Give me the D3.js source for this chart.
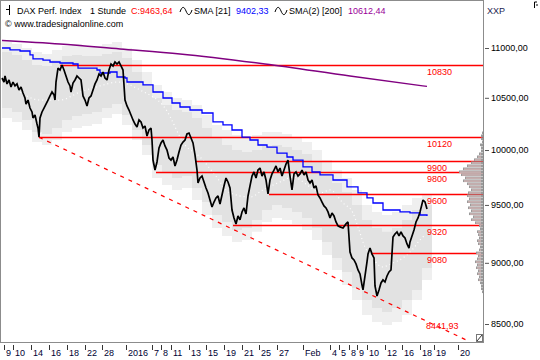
<!DOCTYPE html>
<html><head><meta charset="utf-8">
<script src="https://cdn.jsdelivr.net/npm/d3@7/dist/d3.min.js"></script>
<style>
body{margin:0;background:#fff}
svg{display:block}
text{font-family:"Liberation Sans",Arial,sans-serif;font-size:9px}
</style>
</head><body>
<svg id="c" width="540" height="360"></svg>
<script>
// ---------- DATA ----------
// hourly bar index vs. close
const priceSeries = [[2,10696],[4,10656],[5,10716],[7,10637],[9,10676],[11,10607],[13,10656],[15,10617],[17,10637],[19,10577],[21,10607],[23,10547],[25,10498],[26,10439],[28,10478],[30,10400],[32,10362],[33,10304],[35,10333],[37,10246],[38,10208],[39,10122],[40,10304],[42,10362],[44,10400],[46,10439],[48,10478],[50,10518],[52,10557],[54,10528],[55,10478],[56,10656],[58,10796],[60,10776],[62,10827],[64,10776],[66,10716],[68,10656],[70,10617],[71,10557],[73,10646],[75,10676],[77,10716],[79,10696],[81,10676],[83,10518],[85,10478],[87,10420],[89,10498],[91,10518],[93,10577],[95,10637],[97,10676],[99,10736],[101,10716],[103,10756],[105,10696],[107,10676],[109,10776],[111,10837],[113,10817],[115,10857],[117,10837],[119,10857],[121,10817],[123,10776],[125,10478],[127,10420],[129,10381],[131,10333],[133,10285],[135,10246],[137,10218],[139,10285],[141,10266],[143,10208],[145,10227],[147,10132],[149,10189],[151,10208],[152,10094],[153,9907],[155,9815],[157,9889],[159,10019],[161,10066],[163,10094],[165,10038],[167,10000],[169,9926],[171,9907],[173,9935],[175,9852],[177,9907],[179,9982],[181,10047],[183,10075],[185,10094],[187,10151],[189,10160],[191,10113],[193,10066],[195,9954],[197,9815],[198,9697],[200,9742],[202,9760],[204,9706],[206,9652],[208,9607],[210,9544],[212,9482],[214,9526],[216,9562],[218,9580],[220,9508],[222,9589],[224,9670],[226,9742],[228,9706],[230,9652],[232,9455],[234,9385],[236,9333],[238,9403],[240,9368],[242,9438],[244,9473],[246,9420],[248,9580],[250,9670],[252,9760],[254,9797],[256,9742],[258,9815],[260,9833],[262,9760],[264,9797],[266,9724],[268,9598],[270,9724],[272,9779],[274,9815],[276,9852],[278,9797],[280,9833],[282,9760],[284,9815],[286,9870],[288,9907],[290,9760],[292,9634],[294,9779],[296,9797],[298,9760],[300,9779],[302,9815],[304,9770],[306,9797],[308,9724],[310,9697],[312,9724],[314,9652],[316,9670],[318,9589],[320,9562],[322,9526],[324,9491],[326,9473],[328,9438],[330,9385],[332,9429],[334,9403],[336,9350],[338,9316],[340,9307],[343,9298],[346,9333],[348,9350],[350,9091],[352,9041],[354,9024],[356,8991],[358,8940],[360,8907],[362,8815],[363,8775],[365,8890],[367,9007],[368,9074],[370,9125],[372,9074],[374,9041],[375,8807],[377,8725],[379,8775],[381,8832],[383,8857],[385,8840],[387,8890],[389,8924],[391,8940],[393,9220],[395,9246],[397,9264],[399,9229],[401,9264],[403,9229],[405,9211],[407,9160],[409,9125],[410,9177],[412,9229],[414,9281],[416,9350],[418,9385],[420,9438],[422,9508],[423,9544],[425,9526],[427,9463.64]];

const sma21 = [[2,11000],[10,10980],[20,10969],[30,10929],[33,10888],[43,10877],[50,10857],[60,10847],[73,10837],[78,10796],[97,10776],[100,10746],[110,10756],[117,10706],[125,10696],[127,10656],[143,10627],[153,10557],[163,10498],[172,10449],[180,10410],[190,10381],[202,10352],[213,10266],[223,10237],[232,10189],[242,10122],[250,10094],[258,10047],[267,10028],[277,9972],[287,9935],[293,9907],[303,9843],[312,9797],[320,9770],[333,9724],[347,9661],[358,9607],[367,9562],[373,9517],[383,9455],[400,9438],[410,9429],[420,9411],[427,9402.33]];

const sma200 = [[2,11077],[60,11041],[120,10990],[180,10939],[265,10837],[350,10716],[427,10612.44]];

const midLine = [[20,10557],[40,10478],[60,10478],[80,10557],[100,10617],[118,10656],[140,10577],[165,10400],[185,10047],[200,9935],[215,9770],[230,9607],[250,9571],[263,9634],[280,9706],[293,9751],[310,9661],[320,9607],[330,9634],[343,9517],[353,9429],[358,9307],[365,9134],[372,9049],[382,8966],[393,8999],[403,9041],[412,9108],[420,9194],[425,9238]];

// band steps: start bar, outer top, inner top, inner bottom, outer bottom
const bandBars   = [2,12,22,32,42,52,62,72,82,92,102,112,122,132,142,152,162,172,182,192,202,212,222,232,242,252,262,272,282,292,302,312,322,332,342,352,362,372,382,392,402,412,422,432];
const outerTop   = [11062,11041,11000,10959,10939,10980,11021,11041,11021,11021,11041,11062,11000,10877,10756,10627,10557,10498,10478,10429,10333,10237,10189,10141,10113,10141,10170,10170,10151,10113,10075,10000,9907,9815,9742,9634,9500,9438,9411,9438,9500,9562,9589,9589];
const innerTop   = [10959,10928,10877,10827,10817,10877,10918,10928,10918,10918,10939,10959,10898,10756,10637,10498,10429,10381,10362,10304,10208,10113,10047,10000,9982,10000,10038,10047,10028,10000,9963,9889,9797,9697,9616,9500,9368,9298,9264,9298,9368,9455,9500,9500];
const innerBot   = [10400,10362,10285,10170,10151,10208,10285,10323,10342,10362,10400,10439,10333,10189,10047,9861,9797,9742,9760,9652,9526,9411,9350,9281,9298,9368,9455,9500,9473,9438,9385,9298,9177,9041,8924,8791,8693,8628,8596,8628,8693,8775,8957,8957];
const outerBot   = [10304,10266,10189,10075,10047,10094,10170,10208,10227,10246,10304,10342,10237,10094,9954,9742,9679,9634,9652,9544,9411,9298,9229,9177,9194,9264,9350,9385,9368,9333,9281,9194,9066,8940,8815,8693,8572,8516,8492,8516,8572,8693,8857,8857];

// horizontal resistance / support levels and their start bar
const levelValues = [10830,10120,9900,9800,9600,9320,9080];
const levelStart  = [60,39,195,156,269,233,372];
const levelLabels = ["10830","10120","9900","9800","9600","9320","9080"];

const trendLine = [[39,10120],[470,8360]];
const trendLabel = "8441,93";

// volume profile
const profilePrice = [10160,10132,10104,10075,10047,10019,9991,9963,9935,9908,9880,9852,9824,9797,9770,9742,9715,9688,9661,9634,9607,9580,9553,9527,9500,9473,9447,9420,9394,9368,9342,9316,9290,9264,9238,9211,9186,9160,9134,9108,9082,9057,9032,9007,8982,8957,8932,8907,8882,8857,8832,8807,8783,8758];
const profileVol   = [1,2,2,1,3,2,2,4,6,9,12,16,20,24,22,18,20,16,14,12,15,16,14,16,13,15,12,14,10,12,8,4,3,6,5,4,6,5,3,4,7,5,6,8,6,7,5,6,4,5,3,2,2,1];

const yTicks = [11000,10500,10000,9500,9000,8500];
const yTickLabels = ["11000,00","10500,00","10000,00","9500,00","9000,00","8500,00"];
const xTicks = [4,13,31,49,67,85,102,126,152,161,171,189,206,224,242,259,277,303,330,339,349,357,367,385,402,420,434,458];
const xTickLabels = ["9","10","14","16","18","22","28","2016","7","8","11","13","15","19","21","25","27","Feb","4","5","8","9","10","12","16","18","19","20"];

// ---------- CHART ----------
const svg = d3.select("#c");
const W = 483, H = 342;
const x = d3.scaleLinear().domain([0, 483]).range([0, 483]);
const y = d3.scaleLog().domain([8500, 11000]).range([324, 48]);

const clip = svg.append("defs").append("clipPath").attr("id","pc")
  .append("rect").attr("x",1).attr("y",1).attr("width",W-1).attr("height",H-1);
const g = svg.append("g").attr("clip-path","url(#pc)");

// bands
const bandData = bandBars.map((b,i)=>({b, ot:outerTop[i], it:innerTop[i], ib:innerBot[i], ob:outerBot[i]}));
g.append("path").datum(bandData)
  .attr("d", d3.area().x(d=>x(d.b)).y0(d=>y(d.ob)).y1(d=>y(d.ot)).curve(d3.curveStepAfter))
  .attr("fill","#efefef");
g.append("path").datum(bandData)
  .attr("d", d3.area().x(d=>x(d.b)).y0(d=>y(d.ib)).y1(d=>y(d.it)).curve(d3.curveStepAfter))
  .attr("fill","#e2e2e2");

// dotted midline
g.append("path").datum(midLine)
  .attr("d", d3.line().x(d=>x(d[0])).y(d=>y(d[1])).curve(d3.curveMonotoneX))
  .attr("fill","none").attr("stroke","#fff").attr("stroke-width",1.2).attr("stroke-dasharray","1,3");

// horizontal level lines
levelValues.forEach((v,i)=>{
  const yy = Math.round(y(v)) + 0.5;
  g.append("line").attr("x1",x(levelStart[i])).attr("x2",W).attr("y1",yy).attr("y2",yy)
    .attr("stroke","#ff0000").attr("stroke-width",1.3);
  g.append("text").attr("x",427).attr("y",yy+9).attr("fill","#ff0000").text(levelLabels[i]);
});

// trend line
g.append("path").datum(trendLine)
  .attr("d", d3.line().x(d=>x(d[0])).y(d=>y(d[1])))
  .attr("fill","none").attr("stroke","#ff0000").attr("stroke-width",1.2).attr("stroke-dasharray","4,5");
g.append("text").attr("x",426).attr("y",329).attr("fill","#ff0000").text(trendLabel);

// SMA 200
g.append("path").datum(sma200)
  .attr("d", d3.line().x(d=>x(d[0])).y(d=>y(d[1])).curve(d3.curveMonotoneX))
  .attr("fill","none").attr("stroke","#800080").attr("stroke-width",1.4);

// SMA 21
g.append("path").datum(sma21)
  .attr("d", d3.line().x(d=>x(d[0])).y(d=>y(d[1])).curve(d3.curveStepAfter))
  .attr("fill","none").attr("stroke","#0000ff").attr("stroke-width",1.3);

// price
g.append("path").datum(priceSeries)
  .attr("d", d3.line().x(d=>x(d[0])).y(d=>y(d[1])))
  .attr("fill","none").attr("stroke","#000").attr("stroke-width",1.7).attr("stroke-linejoin","miter").attr("stroke-miterlimit",2);

// volume profile
const vx = d3.scaleLinear().domain([0, 24]).range([0, 24]);
profilePrice.forEach((p,i)=>{
  const yy = y(p), len = vx(profileVol[i]);
  g.append("rect").attr("x",W-len).attr("y",yy-1.5).attr("width",len).attr("height",2.6).attr("fill","#9a9a9a");
  if (len > 3) g.append("rect").attr("x",W-len+1).attr("y",yy-0.4).attr("width",Math.max(0,len-3)).attr("height",0.9).attr("fill","#f2c4c4");
});

// frame
svg.append("rect").attr("x",0.5).attr("y",0.5).attr("width",W).attr("height",H)
  .attr("fill","none").attr("stroke","#8c8c8c");
// resize glyph
svg.append("rect").attr("x",476.5).attr("y",334.5).attr("width",6).attr("height",7).attr("fill","#fff").attr("stroke","#777");
svg.append("line").attr("x1",477).attr("y1",341).attr("x2",482).attr("y2",335).attr("stroke","#333");

// y axis
const ya = svg.append("g").attr("transform",`translate(485,0)`)
  .call(d3.axisRight(y).tickValues(yTicks).tickFormat((d,i)=>yTickLabels[i]).tickSize(4).tickPadding(2));
ya.select(".domain").remove();
ya.selectAll("line").attr("stroke","#555");
ya.selectAll("text").attr("fill","#000").style("font-size","9px").style("font-family","Liberation Sans, Arial, sans-serif");

svg.append("text").attr("x",487).attr("y",14).attr("fill","#1a1a50").text("XXP");
svg.append("path").attr("d","M534.5,2 V8 M534.5,2 H537 M536,5 H538").attr("stroke","#000").attr("fill","none");

// x axis
const xa = svg.append("g");
xTicks.forEach((t,i)=>{
  xa.append("line").attr("x1",x(t)+0.5).attr("x2",x(t)+0.5).attr("y1",345).attr("y2",350).attr("stroke","#333");
  xa.append("text").attr("x",x(t)+2).attr("y",356).attr("fill","#000033").text(xTickLabels[i]);
});

// header
const hd = svg.append("g");
hd.append("path").attr("d","M9.5,5 V15 M6,9.5 H9.5").attr("stroke","#000").attr("fill","none");
const wave = (x0)=>`M${x0},12 c2,-6 4,-6 6,-1 s4,5 6,-1`;
hd.append("path").attr("d",wave(180)).attr("stroke","#000").attr("fill","none");
hd.append("path").attr("d",wave(275)).attr("stroke","#000").attr("fill","none");
const ht = [
  {x:17,t:"DAX Perf. Index",c:"#000"},
  {x:90,t:"1 Stunde",c:"#000"},
  {x:131,t:"C:9463,64",c:"#ff0000"},
  {x:194,t:"SMA [21]",c:"#000"},
  {x:236,t:"9402,33",c:"#0000ff"},
  {x:289,t:"SMA(2) [200]",c:"#000"},
  {x:348,t:"10612,44",c:"#990099"}
];
ht.forEach(d=>hd.append("text").attr("x",d.x).attr("y",14).attr("fill",d.c).text(d.t));
hd.append("text").attr("x",5).attr("y",27).attr("fill","#000").text("© www.tradesignalonline.com");
</script>
</body></html>
